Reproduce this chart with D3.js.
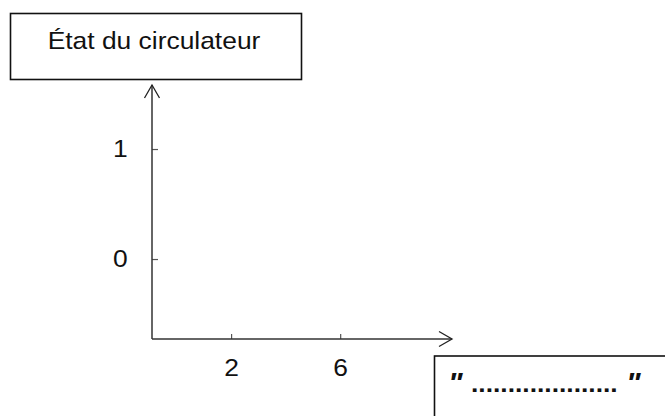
<!DOCTYPE html>
<html>
<head>
<meta charset="utf-8">
<script src="https://cdn.jsdelivr.net/npm/d3@7"></script>
<style>
  body { margin: 0; background: #fff; }
  svg { display: block; font-family: "Liberation Sans", Arial, sans-serif; }
</style>
</head>
<body>
<svg id="chart" width="665" height="416"></svg>
<script>
const title = 'État du circulateur';
const answerDots = '....................';
const xTicks = [2, 6];
const yTicks = [0, 1];
const xDomain = [-0.9, 10.1];
const yDomain = [-0.727, 1.582];

const stretch = 1.1; // text in the picture is a little wider than the font

const svg = d3.select('#chart');

const x = d3.scaleLinear().domain(xDomain).range([152, 452]);
const y = d3.scaleLinear().domain(yDomain).range([339, 85]);

// open arrow head
svg.append('defs').append('marker')
  .attr('id', 'arrow')
  .attr('markerUnits', 'userSpaceOnUse')
  .attr('viewBox', '-15 -9 17 18')
  .attr('refX', 0).attr('refY', 0)
  .attr('markerWidth', 17).attr('markerHeight', 18)
  .attr('orient', 'auto')
  .append('path')
  .attr('d', 'M-13,-7.5L0,0L-13,7.5')
  .attr('fill', 'none')
  .attr('stroke', '#222')
  .attr('stroke-width', 1.3);

// title box
svg.append('rect')
  .attr('x', 10.5).attr('y', 13.5)
  .attr('width', 291).attr('height', 66)
  .attr('fill', 'none')
  .attr('stroke', '#111')
  .attr('stroke-width', 1.6);

svg.append('text')
  .attr('transform', `translate(154,49) scale(${stretch},1)`)
  .attr('text-anchor', 'middle')
  .style('font-size', '24px')
  .attr('fill', '#111')
  .text(title);

// axes
const xAxis = svg.append('g')
  .attr('transform', `translate(0,${y.range()[0]})`)
  .call(d3.axisBottom(x).tickValues(xTicks).tickFormat(d3.format('d'))
    .tickSize(-5).tickPadding(20));

const yAxis = svg.append('g')
  .attr('transform', `translate(${x.range()[0]},0)`)
  .call(d3.axisLeft(y).tickValues(yTicks).tickFormat(d3.format('d'))
    .tickSize(-6).tickPadding(22));

[xAxis, yAxis].forEach(g => {
  g.select('.domain').remove();
  g.attr('font-size', null).attr('font-family', null);
  g.selectAll('.tick line').attr('stroke', '#555').attr('stroke-width', 1.2);
  g.selectAll('.tick text')
    .style('font-size', '24px')
    .attr('fill', '#111')
    .attr('transform', `scale(${stretch},1)`);
});

svg.append('line')
  .attr('x1', x.range()[0]).attr('y1', y.range()[0])
  .attr('x2', x.range()[1]).attr('y2', y.range()[0])
  .attr('stroke', '#333').attr('stroke-width', 1.5)
  .attr('marker-end', 'url(#arrow)');

svg.append('line')
  .attr('x1', x.range()[0]).attr('y1', y.range()[0])
  .attr('x2', x.range()[0]).attr('y2', y.range()[1])
  .attr('stroke', '#333').attr('stroke-width', 1.5)
  .attr('marker-end', 'url(#arrow)');

// answer box, cut by the page edge
svg.append('rect')
  .attr('x', 434.5).attr('y', 356)
  .attr('width', 260).attr('height', 100)
  .attr('fill', 'none')
  .attr('stroke', '#111')
  .attr('stroke-width', 1.6);

const answer = svg.append('g')
  .attr('fill', '#111')
  .style('font-weight', 'bold');

answer.append('text')
  .attr('transform', `translate(448,392) scale(${stretch},1)`)
  .style('font-size', '28px')
  .style('font-style', 'italic')
  .text('"');

answer.append('text')
  .attr('transform', `translate(471,392) scale(${stretch},1)`)
  .style('font-size', '24px')
  .text(answerDots);

answer.append('text')
  .attr('transform', `translate(626,392) scale(${stretch},1)`)
  .style('font-size', '28px')
  .style('font-style', 'italic')
  .text('"');
</script>
</body>
</html>
